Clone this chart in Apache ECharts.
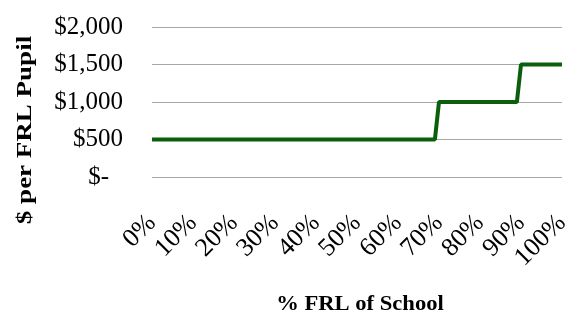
<!DOCTYPE html>
<html>
<head>
<meta charset="utf-8">
<script src="https://cdn.jsdelivr.net/npm/echarts@6/dist/echarts.min.js"></script>
<style>
  html, body { margin: 0; padding: 0; background: #fff; }
  #chart { width: 577px; height: 316px; }
</style>
</head>
<body>
<div id="chart"></div>
<script>
// step breakpoints (% FRL, $ per pupil)
const frlPct = [0, 69, 70, 89, 90, 100]
const perPupil = [500, 500, 1000, 1000, 1500, 1500]
const yMin = 0, yMax = 2000, yStep = 500
const xMin = 0, xMax = 100, xStep = 10
const xTitle = '% FRL of School'
const yTitle = '$ per FRL Pupil'

const serif = 'Liberation Serif, Times New Roman, serif'

const chart = echarts.init(document.getElementById('chart'))

chart.setOption({
  animation: false,
  grid: { left: 152, right: 15, top: 27, bottom: 139, containLabel: false },
  xAxis: {
    type: 'value', min: xMin, max: xMax, interval: xStep,
    axisLine: { show: false }, axisTick: { show: false }, splitLine: { show: false },
    axisLabel: {
      rotate: 45, margin: 42, fontFamily: serif, fontSize: 26, color: '#000',
      formatter: v => v + '%'
    }
  },
  yAxis: {
    type: 'value', min: yMin, max: yMax, interval: yStep,
    axisLine: { show: false }, axisTick: { show: false },
    splitLine: { lineStyle: { color: '#a6a6a6', width: 1 } },
    axisLabel: {
      margin: 29, fontFamily: serif, fontSize: 25, color: '#000',
      formatter: v => v === 0 ? '{dash|$-}' : '$' + v.toLocaleString('en-US'),
      rich: { dash: { fontFamily: serif, fontSize: 25, color: '#000', padding: [0, 14, 0, 0] } }
    }
  },
  // axis titles are drawn a bit stretched in the original, so use graphic text with scale
  graphic: [
    {
      type: 'text', x: 360, y: 305, scaleX: 1.13,
      style: { text: xTitle, font: 'bold 20px ' + serif, fill: '#000', align: 'center', verticalAlign: 'middle' }
    },
    {
      type: 'text', x: 26, y: 130, rotation: Math.PI / 2, scaleX: 1.35,
      style: { text: yTitle, font: 'bold 20px ' + serif, fill: '#000', align: 'center', verticalAlign: 'middle' }
    }
  ],
  series: [{
    type: 'line',
    data: frlPct.map((x, i) => [x, perPupil[i]]),
    symbol: 'none',
    lineStyle: { color: '#0b5e0b', width: 4 }
  }]
})
</script>
</body>
</html>
